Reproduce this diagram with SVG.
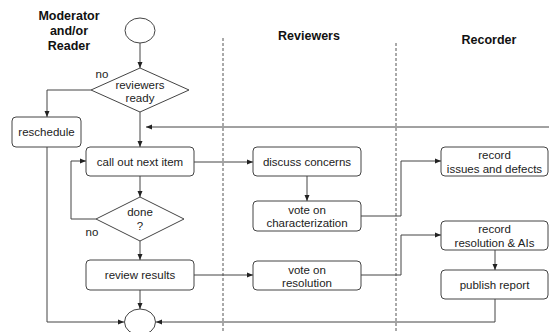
<svg xmlns="http://www.w3.org/2000/svg" width="549" height="332" viewBox="0 0 549 332">
<defs>
<marker id="ah" markerWidth="6" markerHeight="6" refX="6" refY="3" orient="auto" markerUnits="userSpaceOnUse">
<path d="M0,0.5 L6,3 L0,5.5 z" fill="#222"/>
</marker>
<style>
text{font-family:"Liberation Sans",Arial,sans-serif;font-size:11.5px;fill:#222;text-anchor:middle}
.t{font-weight:bold;font-size:12.5px;fill:#111}
.box{fill:#fff;stroke:#444;stroke-width:1}
.c{fill:none;stroke:#444;stroke-width:1}
.a{fill:none;stroke:#444;stroke-width:1;marker-end:url(#ah)}
.d{fill:none;stroke:#555;stroke-width:1;stroke-dasharray:3,2}
</style>
</defs>
<rect width="549" height="332" fill="#fff"/>
<g id="lanes">
<line class="d" x1="223" y1="38" x2="223" y2="332"/>
<line class="d" x1="396" y1="43" x2="396" y2="332"/>
<text class="t" x="69" y="20">Moderator</text>
<text class="t" x="69" y="35">and/or</text>
<text class="t" x="69" y="50">Reader</text>
<text class="t" x="309" y="40">Reviewers</text>
<text class="t" x="489" y="44">Recorder</text>
</g>
<g id="connectors">
<line class="a" x1="140" y1="43" x2="140" y2="68"/>
<polyline class="a" points="91,90 47,90 47,117"/>
<line class="a" x1="140" y1="112" x2="140" y2="147"/>
<line class="a" x1="549" y1="127" x2="146" y2="127"/>
<line class="a" x1="194" y1="162" x2="253" y2="162"/>
<line class="a" x1="140" y1="176" x2="140" y2="197"/>
<polyline class="a" points="96,219 71,219 71,161 86,161"/>
<line class="a" x1="140" y1="241" x2="140" y2="260"/>
<line class="a" x1="194" y1="275" x2="253" y2="275"/>
<line class="a" x1="140" y1="290" x2="140" y2="309"/>
<line class="a" x1="307" y1="176" x2="307" y2="201"/>
<polyline class="a" points="361,216 401,216 401,161 441,161"/>
<polyline class="a" points="361,275 401,275 401,235 441,235"/>
<line class="a" x1="495" y1="250" x2="495" y2="270"/>
<polyline class="a" points="495,299 495,322 156,322"/>
<polyline class="a" points="47,147 47,322 124,322"/>
</g>
<g id="start"><ellipse class="box" cx="140" cy="30.5" rx="15" ry="12.5"/></g>
<g id="end"><ellipse class="box" cx="140" cy="322" rx="15.5" ry="13"/></g>
<g id="ready">
<polygon class="box" points="140,68 189,90 140,112 91,90"/>
<text x="140" y="89">reviewers</text>
<text x="140" y="102">ready</text>
<text x="102" y="78">no</text>
</g>
<g id="reschedule">
<rect class="box" x="12" y="117" width="69" height="30" rx="4"/>
<text x="46.5" y="136">reschedule</text>
</g>
<g id="callout">
<rect class="box" x="86" y="147" width="108" height="29" rx="4"/>
<text x="140" y="166">call out next item</text>
</g>
<g id="done">
<polygon class="box" points="140,197 184,219 140,241 96,219"/>
<text x="140" y="216">done</text>
<text x="140" y="230">?</text>
<text x="92" y="236">no</text>
</g>
<g id="review">
<rect class="box" x="86" y="260" width="108" height="30" rx="4"/>
<text x="140" y="279">review results</text>
</g>
<g id="discuss">
<rect class="box" x="253" y="147" width="108" height="29" rx="4"/>
<text x="307" y="166">discuss concerns</text>
</g>
<g id="votechar">
<rect class="box" x="253" y="201" width="108" height="30" rx="4"/>
<text x="307" y="214">vote on</text>
<text x="307" y="227">characterization</text>
</g>
<g id="voteres">
<rect class="box" x="253" y="261" width="108" height="29" rx="4"/>
<text x="307" y="274">vote on</text>
<text x="307" y="287">resolution</text>
</g>
<g id="recissues">
<rect class="box" x="441" y="147" width="107" height="29" rx="4"/>
<text x="494.5" y="159">record</text>
<text x="494.5" y="173">issues and defects</text>
</g>
<g id="recres">
<rect class="box" x="441" y="221" width="107" height="29" rx="4"/>
<text x="494.5" y="233">record</text>
<text x="494.5" y="247">resolution &amp; AIs</text>
</g>
<g id="publish">
<rect class="box" x="441" y="270" width="107" height="29" rx="4"/>
<text x="494.5" y="289">publish report</text>
</g>
</svg>
